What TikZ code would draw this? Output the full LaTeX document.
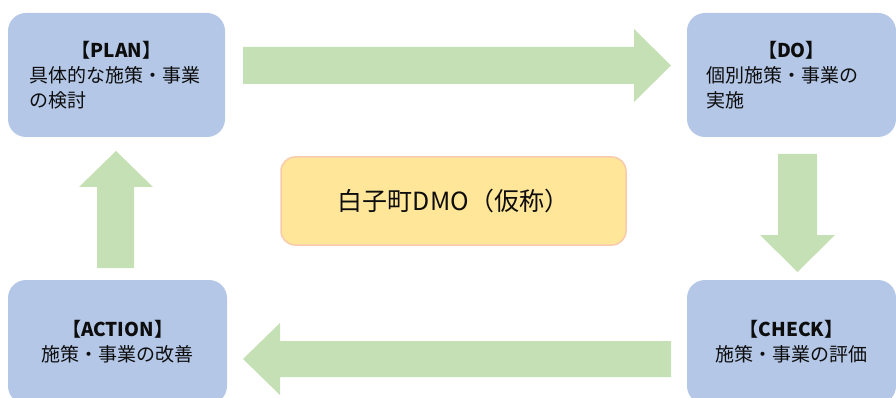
\documentclass[tikz,border=0pt]{standalone}
\usepackage{fontspec}
\setmainfont{Noto Sans CJK JP}
\definecolor{boxblue}{HTML}{B4C7E7}
\definecolor{arrowgreen}{HTML}{C5E0B4}
\definecolor{dmofill}{HTML}{FFE699}
\definecolor{dmoline}{HTML}{F8CBAD}
\definecolor{txt}{HTML}{0D0D0D}
\tikzset{
  phasebox/.style={fill=boxblue, draw=none, rounded corners=18pt, text=txt,
    font=\fontsize{19}{25}\selectfont, inner sep=0pt},
  blockarrow/.style={fill=arrowgreen, draw=none},
  dmobox/.style={fill=dmofill, draw=dmoline, line width=1.5pt, rounded corners=14pt,
    text=txt, font=\fontsize{25}{30}\selectfont, inner sep=0pt}
}
\begin{document}
\begin{tikzpicture}[x=1pt,y=-1pt]
\useasboundingbox (0,0) rectangle (896,398);
\clip (0,0) rectangle (896,398);
% boxes
\node[phasebox, minimum width=217pt, minimum height=124pt, text width=174pt, align=left] (plan) at (116.5,75)
  {\hfill\textbf{【PLAN】}\hfill\null\\具体的な施策・事業\\の検討};
\node[phasebox, minimum width=209pt, minimum height=124pt, text width=170pt, align=left] (do) at (791.5,75)
  {\hfill\textbf{【DO】}\hfill\null\\個別施策・事業の\\実施};
\node[phasebox, minimum width=219pt, minimum height=124pt, align=center] (action) at (117.5,342)
  {\textbf{【ACTION】}\\施策・事業の改善};
\node[phasebox, minimum width=209pt, minimum height=124pt, align=center] (check) at (791.5,342)
  {\textbf{【CHECK】}\\施策・事業の評価};
\node[dmobox, minimum width=345pt, minimum height=88pt] (dmo) at (453.5,201) {白子町DMO（仮称）\hspace{16pt}};
% block arrows
\fill[blockarrow] (243,47) -- (634,47) -- (634,29) -- (671,65.5) -- (634,102) -- (634,84) -- (243,84) -- cycle;
\fill[blockarrow] (778,154) -- (817,154) -- (817,235) -- (835,235) -- (797.5,272) -- (760,235) -- (778,235) -- cycle;
\fill[blockarrow] (671,341) -- (280,341) -- (280,323) -- (243,359) -- (280,395) -- (280,377) -- (671,377) -- cycle;
\fill[blockarrow] (97,268) -- (97,187) -- (79,187) -- (116,151) -- (153,187) -- (134,187) -- (134,268) -- cycle;
\end{tikzpicture}
\end{document}
